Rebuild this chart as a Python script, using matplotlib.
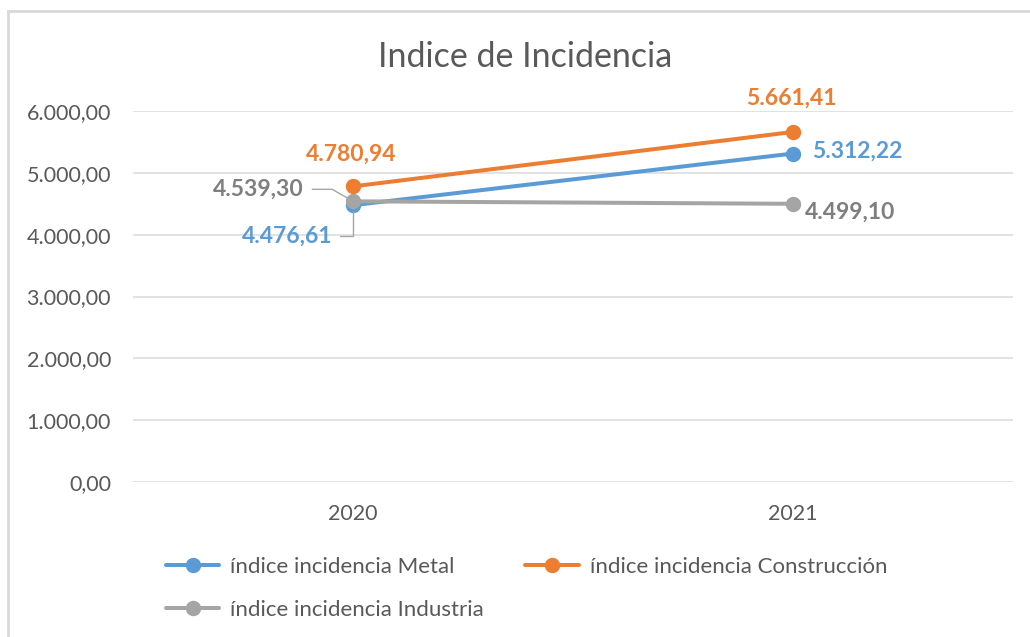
import matplotlib.pyplot as plt
from matplotlib.lines import Line2D
from matplotlib.ticker import FuncFormatter

# Data
years = ['2020', '2021']
metal = [4476.61, 5312.22]
construccion = [4780.94, 5661.41]
industria = [4539.30, 4499.10]

series_names = ['índice incidencia Metal', 'índice incidencia Construcción', 'índice incidencia Industria']
line_colors = ['#5B9BD5', '#ED7D31', '#A5A5A5']
label_colors = ['#5B9BD5', '#ED7D31', '#7F7F7F']

plt.rcParams['font.family'] = ['Lato', 'DejaVu Sans']

PX = 72.0 / 100  # pixels -> points


def es_fmt(v, pos=None):
    s = '{:,.2f}'.format(v)
    return s.replace(',', 'X').replace('.', ',').replace('X', '.')


fig = plt.figure(figsize=(10.3, 6.37), dpi=100)
ax = fig.add_axes([133 / 1030, 1 - 482 / 637, 880 / 1030, 371 / 637])

x = list(range(len(years)))
handles = []
for vals, name, col in zip([metal, construccion, industria], series_names, line_colors):
    h, = ax.plot(x, vals, color=col, linewidth=4 * PX, marker='o', markersize=14 * PX,
                 label=name, clip_on=False, solid_capstyle='round')
    handles.append(h)

ax.set_xlim(-0.5, 1.5)
ax.set_ylim(0, 6000)
ax.set_yticks(range(0, 6001, 1000))
ax.yaxis.set_major_formatter(FuncFormatter(es_fmt))
ax.set_xticks(x)
ax.set_xticklabels(years)
ax.grid(axis='y', color='#D9D9D9', linewidth=1.5 * PX)
ax.set_axisbelow(True)
for s in ax.spines.values():
    s.set_visible(False)
ax.tick_params(axis='both', length=0, labelsize=15.5, labelcolor='#595959')
ax.tick_params(axis='y', pad=22 * PX)
ax.tick_params(axis='x', pad=22 * PX)

# data labels
lab_kw = dict(textcoords='offset points', fontsize=16.5, fontweight='bold', va='center')
ax.annotate(es_fmt(construccion[0]), (0, construccion[0]), xytext=(-2 * PX, 32 * PX),
            ha='center', color=label_colors[1], **lab_kw)
ax.annotate(es_fmt(construccion[1]), (1, construccion[1]), xytext=(-2 * PX, 34 * PX),
            ha='center', color=label_colors[1], **lab_kw)
ax.annotate(es_fmt(metal[1]), (1, metal[1]), xytext=(19 * PX, 2 * PX),
            ha='left', color=label_colors[0], **lab_kw)
ax.annotate(es_fmt(industria[1]), (1, industria[1]), xytext=(12 * PX, -8 * PX),
            ha='left', color=label_colors[2], **lab_kw)
ax.annotate(es_fmt(industria[0]), (0, industria[0]), xytext=(-49 * PX, 12 * PX),
            ha='right', color=label_colors[2],
            arrowprops=dict(arrowstyle='-', color='#A5A5A5', lw=1,
                            connectionstyle='angle,angleA=0,angleB=-30,rad=0',
                            shrinkA=4, shrinkB=5), **lab_kw)
ax.annotate(es_fmt(metal[0]), (0, metal[0]), xytext=(-21 * PX, -31 * PX),
            ha='right', color=label_colors[0],
            arrowprops=dict(arrowstyle='-', color='#A5A5A5', lw=1,
                            connectionstyle='angle,angleA=0,angleB=90,rad=0',
                            shrinkA=4, shrinkB=4), **lab_kw)

# title
fig.text(525 / 1030, 1 - 57 / 637, 'Indice de Incidencia', fontsize=24.5, color='#595959',
         ha='center', va='center')

# legend in row order
order = [0, 2, 1]
fig.legend([handles[i] for i in order], [series_names[i] for i in order], ncol=2,
           loc='center left', bbox_to_anchor=(166 / 1030, 1 - 588.5 / 637), frameon=False,
           fontsize=16, labelcolor='#595959', handlelength=2.4, handletextpad=0.5,
           columnspacing=1.85, labelspacing=1.05, borderpad=0, borderaxespad=0)

# chart border
fig.add_artist(Line2D([8 / 1030, 8 / 1030], [0, 1 - 11 / 637], transform=fig.transFigure,
                      color='#D9D9D9', linewidth=2))
fig.add_artist(Line2D([8 / 1030, 1], [1 - 11 / 637, 1 - 11 / 637], transform=fig.transFigure,
                      color='#D9D9D9', linewidth=2))

fig.savefig('out.png', dpi=100)
